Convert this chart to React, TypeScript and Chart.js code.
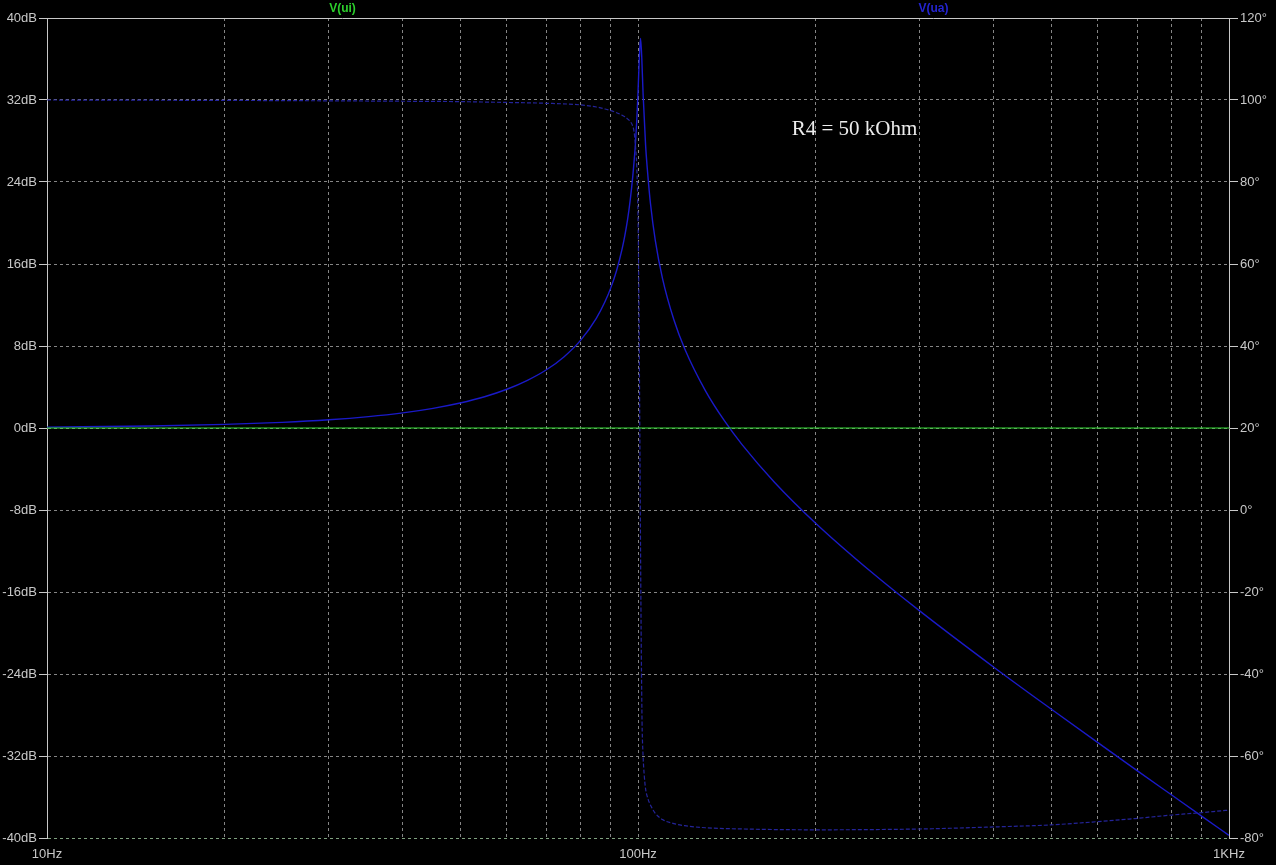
import React, { useEffect, useRef } from "react";
import { Chart, registerables } from "chart.js";

Chart.register(...registerables);

// ---- data ----
const MAG_FREQS = [10, 15, 20, 25, 30, 35, 40, 45, 50, 55, 60, 65, 70, 75, 80, 85, 88, 90, 92, 94, 95, 96, 97, 98, 99, 99.5, 100, 100.5, 101, 101.5, 102, 103, 104, 105, 107, 110, 115, 120, 130, 140, 150, 170, 200, 250, 300, 400, 500, 600, 700, 800, 900, 1000];
const MAG_DB = [0.09, 0.19, 0.35, 0.55, 0.8, 1.11, 1.48, 1.92, 2.44, 3.05, 3.78, 4.65, 5.68, 6.96, 8.57, 10.7, 12.36, 13.72, 15.37, 17.47, 18.76, 20.3, 22.2, 24.6, 27.7, 29.9, 32.7, 36.0, 38.0, 36.0, 32.6, 27.6, 24.4, 21.85, 18.25, 14.6, 10.56, 7.71, 3.65, 0.71, -1.62, -5.26, -9.31, -14.2, -17.87, -23.34, -27.42, -30.7, -33.45, -35.81, -37.89, -39.74];

const PHASE_FREQS = [10, 20, 30, 40, 50, 60, 70, 80, 85, 88, 90, 92, 94, 95, 96, 97, 98, 98.5, 99, 99.5, 100, 100.3, 100.6, 100.8, 101, 101.3, 101.6, 102, 102.5, 103, 104, 105, 107, 110, 115, 120, 130, 150, 200, 300, 400, 500, 600, 700, 800, 900, 1000];
const PHASE_DEG = [100, 99.9, 99.8, 99.7, 99.6, 99.4, 99.2, 98.8, 98.3, 97.8, 97.4, 96.9, 96.3, 95.9, 95.4, 94.8, 93.6, 92.2, 89, 84, 72, 55, 30, 10, -10, -35, -52, -60, -65, -68, -70.5, -72, -74, -75.5, -76.5, -77, -77.5, -77.8, -78, -77.8, -77.3, -76.8, -76, -75.2, -74.4, -73.8, -73.2];

const UI_FREQS = [10, 1000];
const UI_DB = [0, 0];

const GRID_FREQS = [10, 20, 30, 40, 50, 60, 70, 80, 90, 100, 200, 300, 400, 500, 600, 700, 800, 900, 1000];
const X_LABEL_FREQS = [10, 100, 1000];
const X_LABELS = ["10Hz", "100Hz", "1KHz"];

const TRACE_NAMES = ["V(ui)", "V(ua)"];
const ANNOTATION_TEXT = "R4 = 50 kOhm";
const ANNOTATION_FREQ = 182;
const ANNOTATION_DB = 28.6;

const TICK_COLOR = "#c8c8c8";
const GRID_COLOR = "#858585";
const FONT = { family: "'Liberation Sans', Arial, sans-serif", size: 13 };

export default function App() {
  const ref = useRef<HTMLCanvasElement | null>(null);

  useEffect(() => {
    document.body.style.margin = "0";
    document.body.style.background = "#000";
    const canvas = ref.current;
    if (!canvas) return;

    const overlay = {
      id: "overlay",
      afterDraw(chart: any) {
        const { ctx, chartArea } = chart;
        const xs = chart.scales.x;
        const ys = chart.scales.y;
        ctx.save();
        // top frame
        ctx.strokeStyle = TICK_COLOR;
        ctx.lineWidth = 1;
        ctx.setLineDash([]);
        ctx.beginPath();
        ctx.moveTo(chartArea.left, chartArea.top + 0.5);
        ctx.lineTo(chartArea.right, chartArea.top + 0.5);
        ctx.stroke();
        // trace names
        ctx.font = "bold 12px 'Liberation Sans', Arial, sans-serif";
        ctx.textAlign = "center";
        ctx.textBaseline = "middle";
        const w = chartArea.right - chartArea.left;
        ctx.fillStyle = "#2ccf2c";
        ctx.fillText(TRACE_NAMES[0], chartArea.left + w * 0.25, 9);
        ctx.fillStyle = "#2424d0";
        ctx.fillText(TRACE_NAMES[1], chartArea.left + w * 0.75, 9);
        // annotation
        ctx.font = "21px 'Liberation Serif', 'Times New Roman', serif";
        ctx.textAlign = "left";
        ctx.textBaseline = "alphabetic";
        ctx.fillStyle = "#ececec";
        ctx.fillText(ANNOTATION_TEXT, xs.getPixelForValue(ANNOTATION_FREQ), ys.getPixelForValue(ANNOTATION_DB));
        ctx.restore();
      },
    };

    const chart = new Chart(canvas, {
      type: "line",
      data: {
        datasets: [
          {
            label: "V(ui)",
            data: UI_FREQS.map((f, i) => ({ x: f, y: UI_DB[i] })),
            borderColor: "#33dd33",
            borderWidth: 1,
            pointRadius: 0,
            yAxisID: "y",
          },
          {
            label: "V(ua) phase",
            data: PHASE_FREQS.map((f, i) => ({ x: f, y: PHASE_DEG[i] })),
            borderColor: "#24249a",
            borderWidth: 1.2,
            borderDash: [4, 2],
            pointRadius: 0,
            cubicInterpolationMode: "monotone",
            yAxisID: "y2",
          },
          {
            label: "V(ua)",
            data: MAG_FREQS.map((f, i) => ({ x: f, y: MAG_DB[i] })),
            borderColor: "#1a1ac8",
            borderWidth: 1.4,
            pointRadius: 0,
            cubicInterpolationMode: "monotone",
            yAxisID: "y",
          },
        ],
      },
      options: {
        responsive: false,
        animation: false,
        devicePixelRatio: 1,
        layout: { padding: { top: 18, left: 0, right: 0, bottom: 0 } },
        plugins: { legend: { display: false }, tooltip: { enabled: false } },
        scales: {
          x: {
            type: "logarithmic",
            min: 10,
            max: 1000,
            afterBuildTicks: (scale: any) => {
              scale.ticks = GRID_FREQS.map((v) => ({ value: v }));
            },
            afterFit: (scale: any) => {
              scale.height = 27;
            },
            ticks: {
              autoSkip: false,
              maxRotation: 0,
              color: TICK_COLOR,
              font: FONT,
              padding: 9,
              callback: (v: any) => {
                const i = X_LABEL_FREQS.indexOf(Number(v));
                return i >= 0 ? X_LABELS[i] : "";
              },
            },
            grid: {
              color: (ctx: any) => {
                const v = ctx.tick ? ctx.tick.value : null;
                return v === 10 || v === 1000 ? "rgba(0,0,0,0)" : GRID_COLOR;
              },
              drawTicks: false,
              lineWidth: 1,
            },
            border: { display: false, dash: [3, 3] },
          },
          y: {
            type: "linear",
            position: "left",
            min: -40,
            max: 40,
            afterFit: (scale: any) => {
              scale.width = 47;
            },
            ticks: {
              stepSize: 8,
              color: TICK_COLOR,
              font: FONT,
              padding: 2,
              callback: (v: any) => `${v}dB`,
            },
            grid: {
              color: (ctx: any) => {
                const v = ctx.tick ? ctx.tick.value : null;
                if (v === 40) return "rgba(0,0,0,0)";
                if (v === -40) return "#7fa07f";
                return GRID_COLOR;
              },
              tickColor: TICK_COLOR,
              tickLength: 8,
              tickBorderDash: [],
              lineWidth: 1,
            },
            border: { display: true, color: TICK_COLOR, dash: [3, 3] },
          },
          y2: {
            type: "linear",
            position: "right",
            min: -80,
            max: 120,
            afterFit: (scale: any) => {
              scale.width = 47;
            },
            ticks: {
              stepSize: 20,
              color: TICK_COLOR,
              font: FONT,
              padding: 2,
              callback: (v: any) => `${v}°`,
            },
            grid: {
              drawOnChartArea: false,
              tickColor: TICK_COLOR,
              tickLength: 9,
              tickBorderDash: [],
            },
            border: { display: true, color: TICK_COLOR },
          },
        },
      },
      plugins: [overlay],
    } as any);

    return () => chart.destroy();
  }, []);

  return (
    <div style={{ width: 1276, height: 865, background: "#000" }}>
      <canvas ref={ref} width={1276} height={865} style={{ display: "block" }} />
    </div>
  );
}
